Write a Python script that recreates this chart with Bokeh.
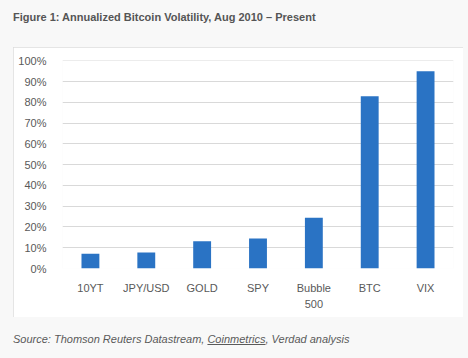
from bokeh.plotting import figure
from bokeh.models import (FactorRange, Range1d, FixedTicker, NumeralTickFormatter,
                          ColumnDataSource, Div)
from bokeh.layouts import column
from bokeh.embed import file_html
from bokeh.resources import INLINE

categories = ["10YT", "JPY/USD", "GOLD", "SPY", "Bubble\n500", "BTC", "VIX"]
volatility = [0.071, 0.077, 0.131, 0.144, 0.244, 0.83, 0.95]
y_ticks = [0.0, 0.1, 0.2, 0.3, 0.4, 0.5, 0.6, 0.7, 0.8, 0.9, 1.0]
title_text = "Figure 1: Annualized Bitcoin Volatility, Aug 2010 \u2013 Present"
source_parts = ["Source: Thomson Reuters Datastream, ", "Coinmetrics", ", Verdad analysis"]

FONT = "Liberation Sans"
BAR = "#2A73C4"
GRAY = "#595959"

title_div = Div(text=title_text, width=450, height=37, margin=(10, 0, 0, 13),
                styles={"font-family": FONT, "font-size": "11px", "font-weight": "bold",
                        "color": "#555555", "line-height": "14px", "white-space": "nowrap"})

p = figure(width=450, height=270, output_backend="svg", toolbar_location=None,
           x_range=FactorRange(*categories, range_padding=0),
           y_range=Range1d(0, 1.002),
           min_border_left=49, min_border_right=10, min_border_top=13,
           min_border_bottom=49, margin=(0, 5, 0, 13),
           styles={"outline": "1px solid #dcdcdc", "outline-offset": "-1px"})
p.border_fill_color = "white"
p.background_fill_color = "white"
p.outline_line_color = None

src = ColumnDataSource(dict(cat=categories, val=volatility))
p.vbar(x="cat", top="val", width=0.32, source=src, fill_color=BAR, line_color=None)

p.xgrid.grid_line_color = None
p.ygrid.grid_line_color = "#d9d9d9"
p.ygrid.grid_line_width = 1

p.yaxis.ticker = FixedTicker(ticks=y_ticks)
p.yaxis.formatter = NumeralTickFormatter(format="0%")
for ax in (p.xaxis, p.yaxis):
    ax.axis_line_color = None
    ax.major_tick_line_color = None
    ax.minor_tick_line_color = None
    ax.major_label_text_font = FONT
    ax.major_label_text_font_size = "11px"
    ax.major_label_text_color = GRAY
p.yaxis.major_label_standoff = 10
p.xaxis.major_label_standoff = 7
p.xaxis.major_label_text_line_height = 1.4

source_html = (source_parts[0] + '<span style="text-decoration: underline;">'
               + source_parts[1] + "</span>" + source_parts[2])
source_div = Div(text=source_html, width=450, height=25, margin=(16, 0, 0, 13),
                 styles={"font-family": FONT, "font-size": "11px", "font-style": "italic",
                         "color": "#5a5a5a", "line-height": "13px", "white-space": "nowrap"})

layout = column(title_div, p, source_div, width=468, height=358,
                styles={"background-color": "#f8f8f8"})

open("out.html", "w").write(file_html(layout, INLINE))
